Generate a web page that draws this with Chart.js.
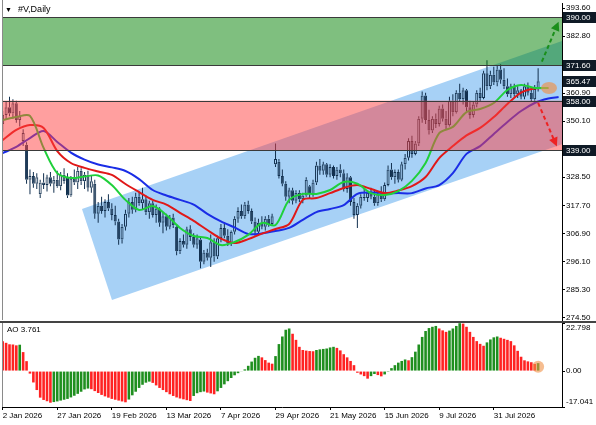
<!DOCTYPE html>
<html lang="en">
<head>
  <meta charset="UTF-8">
  <title>#V,Daily</title>
  <script src="https://cdn.jsdelivr.net/npm/chart.js"></script>
  <style>
    html, body { margin: 0; padding: 0; background: #fff; }
    body { width: 596px; height: 425px; position: relative; overflow: hidden; font-family: 'Liberation Sans', Arial, sans-serif; }
    #mainChart { position: absolute; left: 0; top: 0; }
    #aoChart { position: absolute; left: 0; top: 320px; }
    .title { position: absolute; left: 5px; top: 4px; font-size: 9px; color: #000; }
    .title span { font-size: 7px; margin-right: 6px; }
    .aoTitle { position: absolute; left: 7px; top: 325px; font-size: 8px; color: #000; }
  </style>
</head>
<body>
  <canvas id="mainChart" width="596" height="322"></canvas>
  <canvas id="aoChart" width="596" height="105"></canvas>
  <div class="title"><span>&#9660;</span>#V,Daily</div>
  <div class="aoTitle">AO 3.761</div>

  <script>
    // date labels, one every 16 bars
    const dateLabels = ['2 Jan 2026', '27 Jan 2026', '19 Feb 2026', '13 Mar 2026', '7 Apr 2026',
      '29 Apr 2026', '21 May 2026', '15 Jun 2026', '9 Jul 2026', '31 Jul 2026'];
    const barsPerLabel = 16;

    const openPrices = [
      349.0, 352.5, 355.5, 353.0, 357.0, 350.5, 342.5, 341.0, 327.5, 329.0, 326.0, 322.0, 326.5, 325.5, 328.5, 326.0,
      327.5, 325.0, 329.5, 328.5, 321.5, 328.0, 326.5, 331.0, 327.0, 329.5, 324.5, 326.0, 314.5, 317.5, 315.5, 319.0,
      316.5, 314.0, 311.5, 304.5, 309.5, 314.5, 319.0, 316.0, 321.0, 318.5, 320.0, 315.0, 318.5, 314.0, 316.5, 311.0,
      313.5, 309.5, 313.0, 309.5, 300.0, 304.0, 302.5, 308.5, 305.5, 302.5, 304.5, 296.0, 299.5, 297.5, 303.5, 298.0,
      305.0, 309.0, 306.0, 303.0, 307.5, 312.5, 315.5, 313.5, 318.0, 315.5, 311.5, 307.5, 311.0, 309.5, 312.5, 310.5,
      333.5, 334.5, 329.0, 326.0, 321.0, 323.5, 319.5, 322.5, 320.0, 321.5, 325.0, 322.0, 326.5, 333.0, 331.0, 333.5,
      329.5, 332.5, 329.0, 331.5, 330.0, 324.0, 328.5, 319.0, 314.0, 317.5, 321.0, 320.5, 322.5, 321.0, 318.5, 322.0,
      320.0, 325.5, 331.5, 328.5, 330.5, 327.5, 333.5, 336.0, 342.5, 337.5, 341.5, 351.0, 360.0, 350.5, 346.5, 351.0,
      349.0, 355.0, 351.0, 348.5, 358.0, 353.5, 361.0, 358.5, 362.0, 355.5, 352.5, 356.5, 361.0, 359.0, 368.5, 363.5,
      368.0, 365.0, 370.0, 366.0, 363.5, 360.5, 363.5, 360.5, 362.0, 359.5, 363.5, 361.0, 358.5, 362.5
    ];
    const highPrices = [
      354.0, 357.5, 359.5, 358.5, 358.0, 354.0, 347.0, 342.0, 331.5, 330.5, 330.0, 327.5, 330.0, 329.5, 330.5, 329.0,
      331.0, 330.5, 332.0, 330.0, 329.0, 331.5, 332.5, 332.0, 330.5, 331.0, 329.0, 327.5, 319.0, 321.0, 320.0, 322.0,
      318.5, 317.5, 312.5, 310.5, 316.0, 320.5, 321.0, 322.5, 323.0, 324.5, 321.5, 319.5, 319.5, 318.0, 317.0, 315.0,
      314.5, 314.0, 314.5, 310.5, 305.0, 306.5, 309.5, 310.0, 307.0, 306.5, 305.5, 300.5, 301.0, 306.5, 305.0, 306.0,
      310.5, 311.0, 308.5, 308.0, 313.5, 317.0, 318.0, 319.0, 319.5, 316.5, 313.0, 312.5, 313.5, 313.5, 314.0, 314.5,
      341.5, 335.5, 331.5, 327.0, 324.5, 324.5, 323.5, 323.5, 322.5, 328.5, 325.5, 327.5, 334.5, 335.5, 334.5, 334.0,
      333.5, 333.0, 332.5, 333.5, 331.5, 330.0, 329.0, 320.5, 318.5, 322.0, 324.0, 323.5, 324.5, 324.0, 323.0, 325.0,
      326.5, 333.0, 334.0, 331.5, 331.5, 334.5, 337.5, 343.5, 344.5, 342.5, 352.0, 361.5, 361.0, 354.5, 352.0, 353.0,
      356.0, 356.5, 354.0, 359.5, 360.5, 362.0, 364.5, 363.0, 362.5, 358.0, 357.5, 362.0, 363.0, 369.5, 373.5, 369.5,
      371.0, 371.5, 372.0, 370.5, 366.5, 364.5, 364.5, 363.5, 362.5, 364.5, 365.0, 363.0, 364.0, 370.5
    ];
    const lowPrices = [
      346.0, 350.5, 352.0, 351.0, 349.5, 348.0, 340.5, 326.0, 322.0, 324.5, 324.0, 320.5, 324.0, 323.0, 325.0, 322.5,
      324.5, 323.5, 326.0, 320.5, 321.0, 325.5, 324.0, 325.5, 324.0, 323.0, 322.5, 312.5, 311.0, 314.5, 313.0, 315.5,
      312.0, 310.0, 302.5, 303.0, 308.0, 313.0, 314.5, 315.0, 317.5, 316.0, 314.0, 312.5, 313.0, 311.0, 309.5, 307.0,
      308.0, 308.5, 309.0, 298.5, 299.0, 301.5, 301.0, 304.0, 301.5, 301.0, 293.5, 295.0, 296.5, 294.0, 296.0, 297.0,
      303.5, 305.0, 302.0, 302.0, 306.5, 311.0, 312.5, 312.5, 314.5, 310.5, 306.0, 306.5, 308.5, 308.0, 309.5, 310.0,
      332.5, 328.0, 325.0, 319.5, 318.5, 318.0, 318.5, 319.0, 318.5, 321.0, 320.5, 321.0, 325.5, 329.5, 329.5, 328.5,
      328.5, 328.0, 327.5, 328.5, 323.0, 322.5, 317.5, 312.5, 309.0, 316.5, 319.5, 319.0, 320.0, 317.5, 317.5, 319.0,
      319.5, 325.0, 327.5, 326.0, 326.5, 327.0, 331.5, 335.0, 336.0, 337.0, 340.5, 349.5, 349.0, 345.0, 345.5, 347.5,
      348.0, 350.0, 347.0, 348.0, 352.0, 353.0, 357.5, 356.5, 354.0, 351.0, 351.5, 355.5, 357.5, 358.5, 362.0, 362.5,
      364.0, 363.5, 364.5, 362.5, 359.5, 359.0, 359.5, 359.0, 358.5, 358.5, 360.0, 357.5, 358.0, 361.5
    ];
    const closePrices = [
      352.5, 355.5, 353.0, 357.0, 350.5, 352.0, 345.5, 327.5, 329.0, 326.0, 328.5, 326.5, 325.5, 328.5, 326.0, 327.5,
      325.0, 329.5, 327.0, 321.5, 328.0, 326.5, 331.0, 327.0, 329.5, 324.5, 327.0, 314.5, 317.5, 315.5, 319.0, 316.5,
      314.0, 311.5, 304.5, 309.5, 314.5, 319.0, 316.0, 321.0, 318.5, 320.0, 315.0, 318.5, 314.0, 316.5, 311.0, 313.5,
      309.5, 313.0, 310.0, 300.0, 304.0, 302.5, 308.5, 305.5, 302.5, 305.0, 296.0, 299.5, 297.5, 303.5, 298.0, 305.0,
      309.0, 306.0, 303.0, 307.5, 312.5, 315.5, 313.5, 318.0, 315.5, 311.5, 307.5, 311.0, 309.5, 312.5, 310.5, 313.5,
      335.5, 329.0, 326.0, 321.0, 323.5, 319.5, 322.5, 320.0, 321.5, 327.5, 322.0, 326.5, 333.0, 331.0, 333.5, 329.5,
      332.5, 329.0, 331.5, 330.0, 324.0, 328.5, 319.0, 314.0, 317.5, 321.0, 320.5, 322.5, 321.0, 318.5, 322.0, 320.0,
      325.5, 331.5, 328.5, 330.5, 327.5, 333.5, 336.0, 342.5, 337.5, 341.5, 351.0, 360.0, 350.5, 346.5, 351.0, 349.0,
      355.0, 351.0, 348.5, 358.0, 353.5, 361.0, 358.5, 362.0, 355.5, 352.5, 356.5, 361.0, 359.0, 368.5, 363.5, 368.0,
      365.0, 370.0, 366.0, 363.5, 360.5, 363.5, 360.5, 362.0, 359.5, 363.5, 361.0, 358.5, 362.5, 365.47
    ];

    // Alligator lines, read every 4 bars (lines run past the last bar)
    const maIndex = [0, 4, 8, 12, 16, 20, 24, 28, 32, 36, 40, 44, 48, 52, 56, 60, 64, 68, 72, 76, 80,
      84, 88, 92, 96, 100, 104, 108, 112, 116, 120, 124, 128, 132, 136, 140, 144, 148, 152, 156, 160, 163];
    const lipsLine = [350.5, 351.7, 352.1, 339.8, 330.1, 328.2, 328.8, 329.2, 325.5, 319.8, 315.9, 317.4, 314.0, 309.0,
      305.9, 305.1, 302.4, 303.6, 306.3, 310.9, 310.1, 319.8, 322.1, 322.1, 323.6, 326.7, 326.0, 322.4, 321.7, 323.2,
      327.1, 334.0, 345.5, 347.9, 353.6, 354.8, 357.1, 362.1, 364.0, 362.9, 362.9, null];
    const teethLine = [342.8, 346.7, 348.6, 347.5, 338.6, 334.0, 332.1, 330.7, 329.4, 325.9, 322.8, 319.8, 318.0, 314.8,
      311.7, 308.2, 304.9, 303.2, 304.7, 306.8, 308.6, 310.5, 319.8, 320.5, 322.4, 324.4, 325.5, 324.0, 322.4, 323.4,
      325.1, 328.6, 335.9, 340.5, 344.6, 347.5, 351.7, 356.7, 361.1, 362.7, 362.9, null];
    const jawLine = [337.8, 340.2, 343.6, 346.3, 342.1, 338.0, 335.3, 333.4, 332.3, 330.9, 327.8, 323.6, 321.5, 319.8,
      318.0, 314.4, 311.5, 309.2, 306.7, 306.9, 307.8, 309.0, 312.1, 315.1, 316.3, 317.8, 322.1, 322.6, 322.4, 322.4,
      322.4, 324.2, 325.5, 330.1, 337.5, 340.5, 345.2, 349.8, 354.0, 357.1, 358.8, 359.4];

    const aoValues = [
      14.2, 13.4, 12.7, 12.6, 12.2, 12.5, 9.0, 4.7, -1.2, -5.4, -9.0, -12.6, -13.7, -14.3, -15.0, -14.7,
      -14.4, -14.0, -13.6, -13.2, -12.5, -11.7, -10.8, -9.8, -8.7, -8.3, -8.6, -9.5, -10.4, -11.3, -12.0, -12.6,
      -13.2, -13.6, -14.0, -14.4, -14.8, -13.5, -11.5, -9.8, -8.0, -6.5, -5.5, -5.0, -5.6, -6.8, -8.0, -9.0,
      -10.0, -11.0, -11.8, -12.5, -13.0, -13.4, -13.8, -14.2, -11.8, -10.5, -10.0, -9.7, -10.2, -10.6, -11.0, -9.6,
      -8.0, -6.3, -4.8, -3.3, -2.0, -1.0, -0.3, 0.8, 2.5, 4.5, 6.3, 7.2, 6.5, 5.2, 4.0, 3.5,
      7.1, 12.8, 16.4, 19.6, 20.2, 17.7, 14.8, 11.5, 10.0, 9.7, 9.5, 9.4, 10.0, 10.3, 10.5, 10.7,
      11.2, 11.5, 11.0, 9.8, 8.0, 6.5, 4.8, 2.8, -0.8, -1.6, -2.4, -3.6, -2.4, -1.4, -1.9, -2.5,
      -1.6, -0.4, 1.4, 2.8, 4.0, 4.8, 5.5, 5.1, 6.6, 9.2, 12.6, 16.2, 19.0, 20.4, 21.0, 21.4,
      20.2, 19.3, 18.6, 19.2, 20.2, 21.4, 22.7, 22.5, 21.0, 18.6, 16.2, 14.2, 12.9, 12.0, 13.6, 15.0,
      16.0, 16.4, 15.8, 15.3, 14.8, 14.2, 12.2, 9.6, 6.8, 5.1, 4.6, 4.2, 3.4, 3.761
    ];

    const priceTicks = [274.5, 285.3, 296.1, 306.9, 317.7, 328.5, 350.1, 360.9, 382.8, 393.6];
    const priceLevels = [390.00, 371.60, 365.47, 358.00, 339.00];
    const aoTicks = [22.798, 0, -17.041];
    const greenZone = [371.6, 390.0];
    const redZone = [339.0, 358.0];
    // regression channel corners (bar index, price)
    const channelIdx = [23.25, 164.0, 164.0, 32.05];
    const channelPrice = [316.3, 381.0, 341.2, 281.3];
    // forecast arrows and marker
    const upArrowIdx = [158.1, 163.0];
    const upArrowPrice = [373.0, 388.4];
    const downArrowIdx = [157.0, 162.5];
    const downArrowPrice = [357.1, 340.3];
    const markIdx = 160.2;
    const markPrice = 362.9;
    const aoMark = [157, 2.0];

    const FONT = 'Liberation Sans';
    const candleColor = '#12304f';
    const xMin = -0.2, xMax = 164;

    const bodies = openPrices.map((o, i) => ({ x: i, y: [o, closePrices[i]] }));
    const upWicks = openPrices.map((o, i) => ({ x: i, y: [Math.max(o, closePrices[i]), highPrices[i]] }));
    const lowWicks = openPrices.map((o, i) => ({ x: i, y: [lowPrices[i], Math.min(o, closePrices[i])] }));
    const bodyFill = openPrices.map((o, i) => closePrices[i] >= o ? 'rgba(0,0,0,0)' : candleColor);

    const lineSet = (label, values, color, order) => ({
      type: 'line', label, order,
      data: maIndex.map((x, k) => ({ x, y: values[k] })),
      borderColor: color, borderWidth: 2, pointRadius: 0, tension: 0.3, spanGaps: false
    });

    function drawArrow(ctx, x1, y1, x2, y2, color) {
      const ang = Math.atan2(y2 - y1, x2 - x1);
      ctx.save();
      ctx.strokeStyle = color;
      ctx.fillStyle = color;
      ctx.lineWidth = 2;
      ctx.setLineDash([4, 3]);
      ctx.beginPath();
      ctx.moveTo(x1, y1);
      ctx.lineTo(x2 - 6 * Math.cos(ang), y2 - 6 * Math.sin(ang));
      ctx.stroke();
      ctx.setLineDash([]);
      ctx.beginPath();
      ctx.moveTo(x2, y2);
      ctx.lineTo(x2 - 9 * Math.cos(ang) + 4.5 * Math.sin(ang), y2 - 9 * Math.sin(ang) - 4.5 * Math.cos(ang));
      ctx.lineTo(x2 - 9 * Math.cos(ang) - 4.5 * Math.sin(ang), y2 - 9 * Math.sin(ang) + 4.5 * Math.cos(ang));
      ctx.closePath();
      ctx.fill();
      ctx.restore();
    }

    const mainPlugin = {
      id: 'mainDecor',
      beforeDatasetsDraw(chart) {
        const { ctx, chartArea: a, scales: { x, y } } = chart;
        ctx.save();
        ctx.beginPath();
        ctx.rect(a.left, a.top, a.width, a.height);
        ctx.clip();
        ctx.beginPath();
        channelIdx.forEach((v, k) => {
          const px = x.getPixelForValue(v), py = y.getPixelForValue(channelPrice[k]);
          if (k) ctx.lineTo(px, py); else ctx.moveTo(px, py);
        });
        ctx.closePath();
        ctx.fillStyle = '#a7d1f6';
        ctx.fill();
        ctx.restore();
      },
      afterDatasetsDraw(chart) {
        const { ctx, chartArea: a, scales: { x, y } } = chart;
        ctx.save();
        ctx.beginPath();
        ctx.rect(a.left, a.top, a.width, a.height);
        ctx.clip();
        const zone = (z, color) => {
          const y1 = y.getPixelForValue(z[1]), y0 = y.getPixelForValue(z[0]);
          ctx.fillStyle = color;
          ctx.fillRect(a.left, y1, a.width, y0 - y1);
          ctx.strokeStyle = '#3a3a3a';
          ctx.lineWidth = 1;
          ctx.beginPath();
          ctx.moveTo(a.left, Math.round(y1) + 0.5); ctx.lineTo(a.right, Math.round(y1) + 0.5);
          ctx.moveTo(a.left, Math.round(y0) + 0.5); ctx.lineTo(a.right, Math.round(y0) + 0.5);
          ctx.stroke();
        };
        zone(greenZone, 'rgba(0,128,0,0.5)');
        zone(redZone, 'rgba(255,64,64,0.5)');

        drawArrow(ctx, x.getPixelForValue(upArrowIdx[0]), y.getPixelForValue(upArrowPrice[0]),
          x.getPixelForValue(upArrowIdx[1]), y.getPixelForValue(upArrowPrice[1]), '#1a8f1a');
        drawArrow(ctx, x.getPixelForValue(downArrowIdx[0]), y.getPixelForValue(downArrowPrice[0]),
          x.getPixelForValue(downArrowIdx[1]), y.getPixelForValue(downArrowPrice[1]), '#ee2222');

        ctx.fillStyle = 'rgba(240,145,70,0.65)';
        ctx.beginPath();
        ctx.ellipse(x.getPixelForValue(markIdx), y.getPixelForValue(markPrice), 8, 6, 0, 0, Math.PI * 2);
        ctx.fill();
        ctx.restore();

        // left frame line
        ctx.save();
        ctx.strokeStyle = '#8a8a8a';
        ctx.lineWidth = 1;
        ctx.beginPath();
        ctx.moveTo(a.left + 0.5, 0); ctx.lineTo(a.left + 0.5, a.bottom);
        ctx.stroke();
        ctx.restore();
      },
      afterDraw(chart) {
        const { ctx, chartArea: a, scales: { y } } = chart;
        ctx.save();
        ctx.font = '8px ' + FONT;
        ctx.textBaseline = 'middle';
        priceLevels.forEach(v => {
          const py = Math.round(y.getPixelForValue(v));
          ctx.fillStyle = '#0f1a26';
          ctx.fillRect(a.right + 1, py - 5, 33, 11);
          ctx.fillStyle = '#fff';
          ctx.fillText(v.toFixed(2), a.right + 4, py + 0.5);
        });
        ctx.restore();
      }
    };

    new Chart(document.getElementById('mainChart'), {
      type: 'bar',
      data: {
        datasets: [
          lineSet('Lips', lipsLine, '#1fd03a', 1),
          lineSet('Teeth', teethLine, '#e01818', 2),
          lineSet('Jaw', jawLine, '#1a2de6', 3),
          { label: 'Body', data: bodies, order: 4, grouped: false, barThickness: 3,
            backgroundColor: bodyFill, borderColor: candleColor, borderWidth: 1, borderSkipped: false, inflateAmount: 0 },
          { label: 'UpWick', data: upWicks, order: 5, grouped: false, barThickness: 1,
            backgroundColor: candleColor, borderWidth: 0, inflateAmount: 0 },
          { label: 'LowWick', data: lowWicks, order: 6, grouped: false, barThickness: 1,
            backgroundColor: candleColor, borderWidth: 0, inflateAmount: 0 }
        ]
      },
      options: {
        responsive: false,
        animation: false,
        layout: { padding: { left: 2, right: 0, top: 3, bottom: 2 } },
        plugins: { legend: { display: false }, tooltip: { enabled: false } },
        scales: {
          x: { type: 'linear', min: xMin, max: xMax, offset: false, display: false },
          y: {
            position: 'right', min: 273.56, max: 395.58,
            afterBuildTicks: s => { s.ticks = priceTicks.map(v => ({ value: v })); },
            afterFit: s => { s.width = 34; s.paddingTop = 0; s.paddingBottom = 0; },
            ticks: { callback: v => Number(v).toFixed(2), font: { family: FONT, size: 8 }, color: '#000', padding: 1 },
            grid: { drawOnChartArea: false, tickLength: 3, color: '#000' },
            border: { color: '#000' }
          }
        }
      },
      plugins: [mainPlugin]
    });

    const aoPlugin = {
      id: 'aoDecor',
      afterDraw(chart) {
        const { ctx, chartArea: a, scales: { x, y } } = chart;
        ctx.save();
        ctx.fillStyle = '#444';
        ctx.fillRect(0, 1, chart.width, 2);
        ctx.strokeStyle = '#8a8a8a';
        ctx.beginPath();
        ctx.moveTo(a.left + 0.5, a.top); ctx.lineTo(a.left + 0.5, a.bottom);
        ctx.stroke();
        ctx.font = '8px ' + FONT;
        ctx.fillStyle = '#000';
        ctx.textBaseline = 'middle';
        aoTicks.forEach(v => {
          const py = Math.min(Math.max(y.getPixelForValue(v), a.top + 5), a.bottom - 5);
          ctx.fillText(v === 0 ? '0.00' : v.toFixed(3), a.right + 4, py);
        });
        ctx.fillStyle = 'rgba(240,145,70,0.6)';
        ctx.beginPath();
        ctx.arc(x.getPixelForValue(aoMark[0]), y.getPixelForValue(aoMark[1]), 6, 0, Math.PI * 2);
        ctx.fill();
        ctx.restore();
      }
    };

    new Chart(document.getElementById('aoChart'), {
      type: 'bar',
      data: {
        datasets: [{
          label: 'AO',
          data: aoValues.map((v, i) => ({ x: i, y: v })),
          backgroundColor: aoValues.map((v, i) => (i > 0 && v > aoValues[i - 1]) ? '#1f8f1f' : '#ff2222'),
          barThickness: 2.6, grouped: false, inflateAmount: 0, borderWidth: 0
        }]
      },
      options: {
        responsive: false,
        animation: false,
        layout: { padding: { left: 2, right: 0, top: 3, bottom: 0 } },
        plugins: { legend: { display: false }, tooltip: { enabled: false } },
        scales: {
          x: {
            type: 'linear', min: xMin, max: xMax, offset: false, position: 'bottom',
            afterBuildTicks: s => { s.ticks = dateLabels.map((_, k) => ({ value: k * barsPerLabel })); },
            afterFit: s => { s.height = 18; s.paddingLeft = 0; s.paddingRight = 0; },
            ticks: {
              callback: v => dateLabels[Math.round(v / barsPerLabel)] || '',
              align: 'start', maxRotation: 0, autoSkip: false,
              font: { family: FONT, size: 8 }, color: '#000', padding: 1
            },
            grid: { drawOnChartArea: false, tickLength: 3, color: '#000', offset: false },
            border: { color: '#000' }
          },
          y: {
            position: 'right', min: -17.041, max: 22.798,
            afterBuildTicks: s => { s.ticks = aoTicks.map(v => ({ value: v })); },
            afterFit: s => { s.width = 34; s.paddingTop = 0; s.paddingBottom = 0; },
            ticks: { display: false },
            grid: { drawOnChartArea: false, tickLength: 3, color: '#000' },
            border: { color: '#000' }
          }
        }
      },
      plugins: [aoPlugin]
    });
  </script>
</body>
</html>
